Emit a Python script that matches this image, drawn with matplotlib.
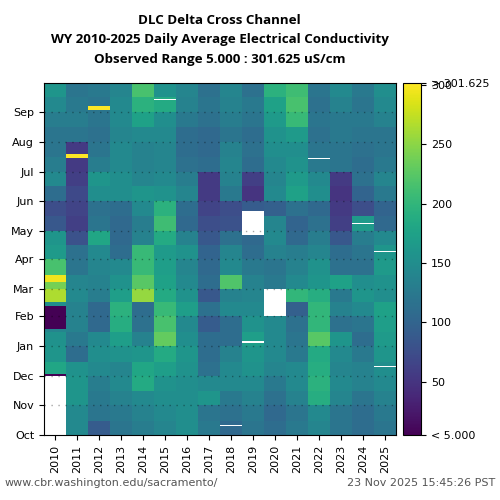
import numpy as np
import matplotlib
matplotlib.use("Agg")
import matplotlib.pyplot as plt

# water years shown as columns
years = list(range(2010, 2026))

# semi-monthly daily-average EC (uS/cm), Oct 1-15, Oct 16-31, ... Sep 16-30
ec_2010 = [150, 150, 150, 150, 180, 160, 155, 140, 150, 265, 240, 215, 165, 160, 85, 75, 110, 145, 130, 120, 120, 130, 145, 160]
ec_2011 = [145, 145, 160, 160, 155, 110, 125, 135, 135, 145, 140, 120, 115, 80, 60, 65, 70, 60, 55, 55, 120, 130, 125, 120]
ec_2012 = [90, 120, 125, 130, 145, 150, 145, 105, 105, 130, 135, 140, 145, 180, 120, 115, 150, 160, 130, 120, 115, 120, 120, 125]
ec_2013 = [120, 125, 135, 145, 140, 155, 170, 190, 195, 170, 155, 145, 110, 105, 105, 110, 150, 150, 145, 145, 140, 145, 145, 140]
ec_2014 = [130, 135, 145, 185, 180, 160, 135, 115, 110, 255, 225, 205, 205, 135, 130, 145, 160, 140, 135, 135, 145, 175, 195, 215]
ec_2015 = [140, 145, 150, 155, 170, 185, 230, 215, 205, 185, 175, 170, 165, 185, 210, 195, 155, 145, 140, 140, 145, 150, 185, 155]
ec_2016 = [150, 150, 150, 150, 155, 160, 150, 145, 170, 155, 145, 140, 155, 135, 105, 110, 140, 130, 115, 110, 110, 125, 135, 140]
ec_2017 = [125, 120, 160, 145, 115, 110, 110, 90, 115, 85, 110, 105, 100, 85, 75, 65, 55, 55, 110, 105, 105, 115, 120, 115]
ec_2018 = [105, 115, 125, 145, 145, 135, 110, 110, 145, 135, 220, 145, 140, 115, 80, 75, 125, 135, 140, 135, 120, 130, 135, 140]
ec_2019 = [120, 125, 135, 145, 155, 160, 170, 155, 145, 140, 135, 125, 110, 105, 110, 90, 50, 60, 110, 115, 110, 120, 125, 115]
ec_2020 = [110, 105, 115, 125, 140, 145, 145, 145, 150, 150, 125, 120, 135, 145, 140, 95, 145, 140, 145, 150, 155, 165, 175, 195]
ec_2021 = [125, 120, 135, 145, 145, 125, 120, 115, 95, 200, 145, 135, 130, 105, 100, 115, 175, 165, 155, 150, 165, 205, 215, 210]
ec_2022 = [140, 145, 190, 195, 190, 185, 225, 200, 200, 190, 160, 155, 140, 130, 115, 105, 150, 145, 125, 120, 115, 120, 115, 120]
ec_2023 = [120, 120, 140, 145, 140, 145, 160, 115, 135, 125, 175, 115, 110, 85, 60, 55, 50, 55, 120, 120, 125, 125, 135, 145]
ec_2024 = [110, 110, 120, 135, 135, 125, 110, 120, 145, 160, 150, 115, 120, 130, 165, 75, 100, 115, 110, 115, 120, 125, 120, 125]
ec_2025 = [120, 125, 135, 145, 150, 160, 165, 170, 175, 150, 155, 165, 160, 145, 105, 100, 125, 140, 125, 120, 120, 135, 145, 150]

# short events / gaps: (water year, first day, last day, value), nan = no data
events = [
    (2010, 0, 61, np.nan), (2010, 61, 63, 5), (2010, 110, 134, 5), (2010, 159, 166, 295),
    (2011, 287, 291, 301), (2012, 337, 341, 301), (2015, 126, 127, 280),
    (2015, 347, 348, np.nan), (2018, 9, 10, np.nan), (2019, 95, 97, np.nan),
    (2019, 207, 232, np.nan), (2020, 123, 151, np.nan), (2022, 286, 287, np.nan),
    (2024, 219, 220, np.nan), (2025, 70, 72, np.nan), (2025, 190, 191, np.nan),
]

months = ["Oct", "Nov", "Dec", "Jan", "Feb", "Mar", "Apr", "May", "Jun", "Jul", "Aug", "Sep"]
month_len = [31, 30, 31, 31, 28, 31, 30, 31, 30, 31, 31, 30]
vmin, vmax = 5.000, 301.625

all_ec = [ec_2010, ec_2011, ec_2012, ec_2013, ec_2014, ec_2015, ec_2016, ec_2017,
          ec_2018, ec_2019, ec_2020, ec_2021, ec_2022, ec_2023, ec_2024, ec_2025]

half_len = []
for m in month_len:
    half_len += [15, m - 15]

grid = np.zeros((365, len(years)))
for j, vals in enumerate(all_ec):
    grid[:, j] = np.repeat(vals, half_len)
for yr, d0, d1, v in events:
    grid[d0:d1, years.index(yr)] = v
grid = np.ma.masked_invalid(grid)

month_start = np.concatenate([[0], np.cumsum(month_len)[:-1]])

fig = plt.figure(figsize=(5, 5), dpi=100)
ax = fig.add_axes([0.088, 0.13, 0.704, 0.704])
cax = fig.add_axes([0.806, 0.13, 0.036, 0.704])

cmap = plt.get_cmap("viridis").copy()
cmap.set_bad("white")
xedges = np.arange(len(years) + 1) + years[0] - 0.5
yedges = np.arange(366)
mesh = ax.pcolormesh(xedges, yedges, grid, cmap=cmap, vmin=vmin, vmax=vmax, shading="flat")

ax.set_xlim(xedges[0], xedges[-1])
ax.set_ylim(0, 365)
ax.set_xticks(years)
ax.set_xticklabels([str(y) for y in years], rotation=90, fontsize=8)
ax.set_yticks(month_start)
ax.set_yticklabels(months, fontsize=8)
for y in month_start[1:]:
    ax.axhline(y, color="k", alpha=0.35, lw=1, ls=(0, (1, 4)))

cb = fig.colorbar(mesh, cax=cax, ticks=[5, 50, 100, 150, 200, 250, 300, 301.625])
cb.ax.set_yticklabels(["< 5.000", "50", "100", "150", "200", "250", "300", "> 301.625"], fontsize=8)

title = ("DLC Delta Cross Channel\n"
         "WY 2010-2025 Daily Average Electrical Conductivity\n"
         "Observed Range 5.000 : 301.625 uS/cm")
fig.text(0.439, 0.973, title, ha="center", va="top", fontsize=9.6,
         fontweight="bold", family="Open Sans", linespacing=1.68)

fig.text(0.01, 0.028, "www.cbr.washington.edu/sacramento/", fontsize=8, color="#555555")
fig.text(0.99, 0.028, "23 Nov 2025 15:45:26 PST", fontsize=8, color="#555555", ha="right")

fig.savefig("out.png", dpi=100)
